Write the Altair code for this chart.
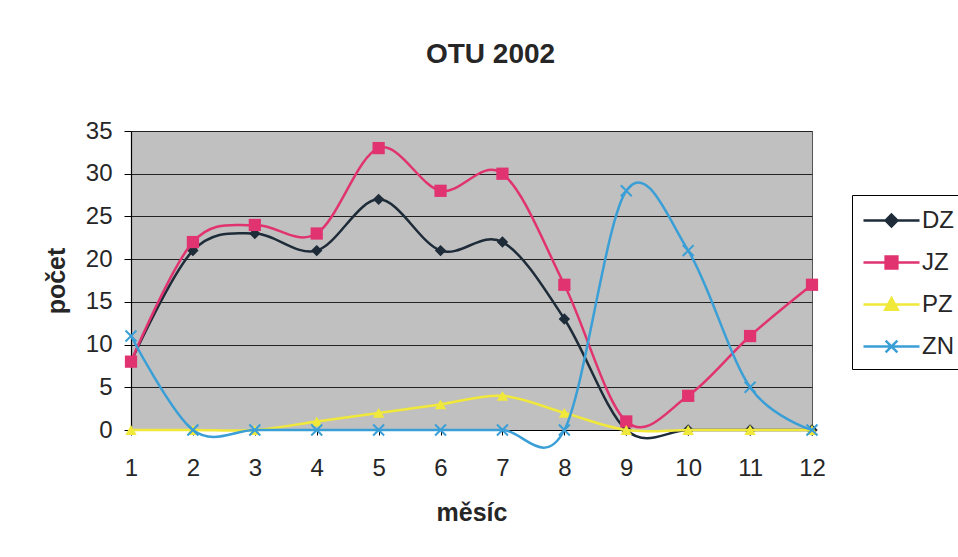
import altair as alt
import pandas as pd

# ---- data ----
months = list(range(1, 13))
series_names = ["DZ", "JZ", "PZ", "ZN"]
dz = [8, 21, 23, 21, 27, 21, 22, 13, 0, 0, 0, 0]
jz = [8, 22, 24, 23, 33, 28, 30, 17, 1, 4, 11, 17]
pz = [0, 0, 0, 1, 2, 3, 4, 2, 0, 0, 0, 0]
zn = [11, 0, 0, 0, 0, 0, 0, 0, 28, 21, 5, 0]
y_ticks = [0, 5, 10, 15, 20, 25, 30, 35]

# ---- styles ----
colors = ["#1e2b38", "#e0336f", "#f0e83a", "#3a9fd6"]
FONT = "Liberation Sans"
TXT = "#262626"
marker_style = {
    "DZ": dict(shape="diamond", size=130, filled=True, strokeWidth=1),
    "JZ": dict(shape="square", size=150, filled=True, strokeWidth=1),
    "PZ": dict(shape="triangle-up", size=130, filled=True, strokeWidth=1),
    "ZN": dict(shape="M-1,-1L1,1M-1,1L1,-1", size=120, filled=False, strokeWidth=2),
}
legend_paths = [
    "M-2,0H2M0,-0.42L0.42,0L0,0.42L-0.42,0Z",
    "M-2,0H2M-0.42,-0.42H0.42V0.42H-0.42Z",
    "M-2,0H2M0,-0.45L0.45,0.38H-0.45Z",
    "M-2,0H2M-0.42,-0.42L0.42,0.42M-0.42,0.42L0.42,-0.42",
]

rows = []
for name, vals in zip(series_names, [dz, jz, pz, zn]):
    for m, v in zip(months, vals):
        rows.append({"mesic": m, "pocet": v, "serie": name})
df = pd.DataFrame(rows)

x_enc = alt.X(
    "mesic:Q",
    scale=alt.Scale(domain=[1, 12], nice=False, zero=False),
    axis=alt.Axis(
        values=months, title="měsíc", grid=False, format="d", labelFlush=False,
        domainColor="#000", domainWidth=1.2, tickColor="#000", tickSize=5,
        labelPadding=21, labelFont=FONT, labelFontSize=24, labelColor=TXT,
        titleFont=FONT, titleFontSize=25, titleFontWeight="bold", titleColor=TXT,
        titlePadding=20,
    ),
)
y_enc = alt.Y(
    "pocet:Q",
    scale=alt.Scale(domain=[0, 35], nice=False),
    axis=alt.Axis(
        values=y_ticks, title="počet", grid=True, gridColor="#222", gridWidth=1,
        labelFlush=False,
        domainColor="#000", domainWidth=1.2, tickColor="#000", tickSize=7,
        labelPadding=12, labelFont=FONT, labelFontSize=24, labelColor=TXT,
        titleFont=FONT, titleFontSize=25, titleFontWeight="bold", titleColor=TXT,
        titlePadding=16,
    ),
)

base = alt.Chart(df).encode(x=x_enc, y=y_enc)

layers = []
for name, col in zip(series_names, colors):
    sub = base.transform_filter(alt.datum.serie == name)
    layers.append(sub.mark_line(interpolate="cardinal", strokeWidth=2.5, color=col))
    st = marker_style[name]
    layers.append(
        sub.mark_point(
            shape=st["shape"], size=st["size"], filled=st["filled"],
            strokeWidth=st["strokeWidth"], opacity=1, color=col,
        )
    )

leg_params = dict(
    title=None, orient="none", legendX=721, legendY=64,
    labelFont=FONT, labelFontSize=24, labelColor=TXT,
    symbolSize=784, symbolStrokeWidth=2.5, symbolOffset=14, labelOffset=15,
    rowPadding=14, padding=10, strokeColor="#000", fillColor="#ffffff",
)
legend_layer = (
    alt.Chart(df)
    .transform_filter("false")
    .mark_point(filled=True, strokeWidth=2.5, opacity=1)
    .encode(
        x=x_enc,
        y=y_enc,
        color=alt.Color("serie:N", scale=alt.Scale(domain=series_names, range=colors),
                        legend=alt.Legend(**leg_params)),
        stroke=alt.Stroke("serie:N", scale=alt.Scale(domain=series_names, range=colors),
                          legend=alt.Legend(**leg_params)),
        shape=alt.Shape("serie:N", scale=alt.Scale(domain=series_names, range=legend_paths),
                        legend=alt.Legend(**leg_params)),
    )
)

chart = (
    alt.layer(*layers, legend_layer)
    .properties(
        width=681,
        height=299,
        title=alt.TitleParams(
            "OTU 2002", font=FONT, fontSize=28, fontWeight="bold", color=TXT,
            anchor="middle", frame="group", baseline="alphabetic", offset=28, dx=19,
        ),
        autosize=alt.AutoSizeParams(type="none"),
        padding={"left": 131, "top": 131, "right": 146, "bottom": 127},
        background="#ffffff",
    )
    .configure_view(fill="#c0c0c0", stroke="#555555", strokeWidth=1)
)

chart.save("out.html", embed_options={"renderer": "svg", "actions": False})
